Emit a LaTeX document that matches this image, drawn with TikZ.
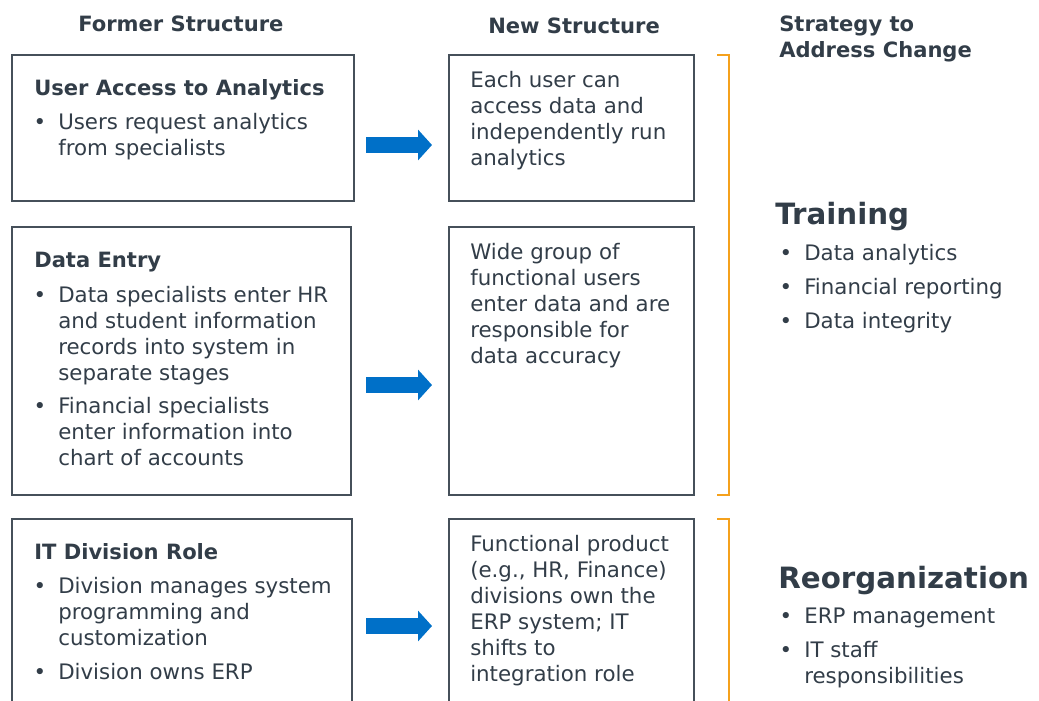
\documentclass[tikz,border=0pt]{standalone}
\usepackage{fontspec}
\setmainfont{DejaVu Sans}
\usetikzlibrary{arrows.meta,fit}

\definecolor{ink}{HTML}{323D48}
\definecolor{frame}{HTML}{46505A}
\definecolor{flow}{HTML}{0070C8}
\definecolor{brace}{HTML}{F5A11C}

\newcommand{\bul}{\llap{\textbullet\hspace{9pt}}}

\begin{document}
\begin{tikzpicture}[x=0.75pt,y=-0.75pt]
  % multi-line nodes hang from the strut of their first line
  \tikzstyle{head}=[font=\fontsize{15.8}{19.5}\selectfont\bfseries,text=ink,align=left,inner sep=0pt,anchor=north west,yshift=13.65pt]
  \tikzstyle{title}=[font=\fontsize{15.8}{19.5}\selectfont\bfseries,text=ink,inner sep=0pt,anchor=base west]
  \tikzstyle{txt}=[font=\fontsize{16}{19.5}\selectfont,text=ink,align=left,inner sep=0pt,anchor=north west,yshift=13.65pt]
  \tikzstyle{big}=[font=\fontsize{22}{26}\selectfont\bfseries,text=ink,inner sep=0pt,anchor=base west]
  \tikzstyle{box}=[draw=frame,line width=1.5pt,inner sep=0pt]
  \tikzstyle{flowarrow}=[draw=flow,line width=12pt,-{Triangle[length=10.5pt,width=22.5pt]},shorten >=12pt]
  \tikzstyle{bracket}=[draw=brace,line width=1.5pt]

  \clip (0,0) rectangle (1039,700);

  % column heads
  \node[head] (hold) at (78,31) {\strut Former Structure};
  \node[head] (hnew) at (488,33) {\strut New Structure};
  \node[head] (hstrat) at (779,31) {\strut Strategy to\\Address Change};

  % former structure
  \node[box,fit={(12,55) (354,201)}] (old1) {};
  \node[box,fit={(12,227) (351,495)}] (old2) {};
  \node[box,fit={(12,519) (352,715)}] (old3) {};

  \node[title] (t1) at (34,95) {User Access to Analytics};
  \node[txt] (o1a) at (58,129) {\strut\bul Users request analytics\\from specialists};

  \node[title] (t2) at (34,267) {Data Entry};
  \node[txt] (o2a) at (58,302) {\strut\bul Data specialists enter HR\\and student information\\records into system in\\separate stages};
  \node[txt] (o2b) at (58,413) {\strut\bul Financial specialists\\enter information into\\chart of accounts};

  \node[title] (t3) at (34,559) {IT Division Role};
  \node[txt] (o3a) at (58,593) {\strut\bul Division manages system\\programming and\\customization};
  \node[txt] (o3b) at (58,679) {\strut\bul Division owns ERP};

  % new structure
  \node[box,fit={(449,55) (694,201)}] (new1) {};
  \node[box,fit={(449,227) (694,495)}] (new2) {};
  \node[box,fit={(449,519) (694,715)}] (new3) {};

  \node[txt] (n1) at (470,87) {\strut Each user can\\access data and\\independently run\\analytics};
  \node[txt] (n2) at (470,259) {\strut Wide group of\\functional users\\enter data and are\\responsible for\\data accuracy};
  \node[txt] (n3) at (470,551) {\strut Functional product\\(e.g., HR, Finance)\\divisions own the\\ERP system; IT\\shifts to\\integration role};

  % arrows
  \coordinate (r1) at (0,145);
  \coordinate (r2) at (0,385);
  \coordinate (r3) at (0,626);
  \draw[flowarrow,shorten <=8.25pt] (old1.east |- r1) -- (new1.west |- r1);
  \draw[flowarrow,shorten <=10.5pt] (old2.east |- r2) -- (new2.west |- r2);
  \draw[flowarrow,shorten <=9.75pt] (old3.east |- r3) -- (new3.west |- r3);

  % brackets
  \draw[bracket] (717,55) -| (729,495) -- (717,495);
  \draw[bracket] (717,519) -| (729,715);

  % strategy
  \node[big] (s1) at (775,224) {Training};
  \node[txt] (s1a) at (804,260) {\strut\bul Data analytics};
  \node[txt] (s1b) at (804,294) {\strut\bul Financial reporting};
  \node[txt] (s1c) at (804,328) {\strut\bul Data integrity};

  \node[big] (s2) at (778,588) {Reorganization};
  \node[txt] (s2a) at (804,623) {\strut\bul ERP management};
  \node[txt] (s2b) at (804,657) {\strut\bul IT staff\\responsibilities};
\end{tikzpicture}
\end{document}
